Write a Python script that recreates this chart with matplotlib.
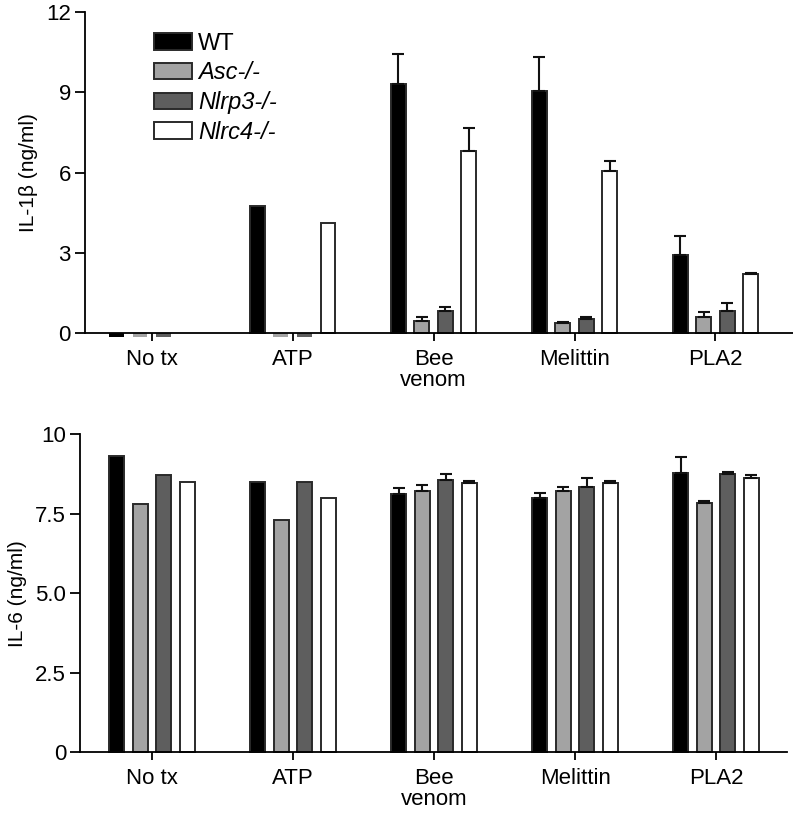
import numpy as np
import matplotlib
matplotlib.use("Agg")
from matplotlib import pyplot as plt

plt.rcParams["font.family"] = ["Liberation Sans", "DejaVu Sans"]

groups = ["No tx", "ATP", "Bee\nvenom", "Melittin", "PLA2"]
genotypes = ["WT", "Asc-/-", "Nlrp3-/-", "Nlrc4-/-"]
colors = ["#000000", "#a3a3a3", "#5e5e5e", "#ffffff"]

# IL-1b (ng/ml), rows = genotype, cols = treatment
il1b = [
    [-0.12, 4.76, 9.30, 9.06, 2.92],
    [-0.12, -0.12, 0.46, 0.37, 0.60],
    [-0.12, -0.12, 0.83, 0.52, 0.85],
    [-0.02, 4.14, 6.83, 6.08, 2.23],
]
il1b_err = [
    [0, 0, 1.12, 1.28, 0.73],
    [0, 0, 0.14, 0.05, 0.20],
    [0, 0, 0.17, 0.10, 0.27],
    [0, 0, 0.86, 0.35, 0.02],
]

# IL-6 (ng/ml)
il6 = [
    [9.32, 8.51, 8.11, 8.01, 8.77],
    [7.80, 7.31, 8.21, 8.21, 7.84],
    [8.71, 8.51, 8.57, 8.34, 8.75],
    [8.51, 8.01, 8.48, 8.48, 8.62],
]
il6_err = [
    [0, 0, 0.20, 0.14, 0.53],
    [0, 0, 0.20, 0.15, 0.07],
    [0, 0, 0.17, 0.28, 0.06],
    [0, 0, 0.05, 0.05, 0.09],
]

fig = plt.figure(figsize=(7.93, 8.13), dpi=100)
ax1 = fig.add_axes([0.107, 0.590, 0.893, 0.395])
ax2 = fig.add_axes([0.101, 0.0747, 0.891, 0.391])

x = np.arange(len(groups))
width = 0.106
offsets = np.array([-1.5, -0.5, 0.5, 1.5]) * 0.167


def draw(ax, vals, errs):
    for i in range(4):
        v = np.array(vals[i])
        e = np.array(errs[i])
        lw = np.where(np.abs(v) < 0.2, 0, 1.4)
        ax.bar(x + offsets[i], v, width, color=colors[i], edgecolor="#2a2a2a",
               linewidth=lw, label=genotypes[i], zorder=2, clip_on=False)
        m = e > 0
        ax.errorbar(x[m] + offsets[i], v[m], yerr=[np.zeros(m.sum()), e[m]],
                    fmt="none", ecolor="#111111", elinewidth=1.5, capsize=4,
                    capthick=1.5, zorder=3)
    for s in ["top", "right"]:
        ax.spines[s].set_visible(False)
    for s in ["left", "bottom"]:
        ax.spines[s].set_linewidth(1.3)
    ax.set_xticks(x)
    ax.set_xticklabels(groups, fontsize=16, linespacing=1.05)
    ax.tick_params(axis="both", direction="out", width=1.3, labelsize=16)
    ax.tick_params(axis="x", length=6, pad=5)
    ax.tick_params(axis="y", length=7, pad=3)


draw(ax1, il1b, il1b_err)
ax1.set_xlim(-0.475, 4.55)
ax1.set_ylim(0, 12)
ax1.set_yticks([0, 3, 6, 9, 12])
ax1.set_ylabel("IL-1β (ng/ml)", fontsize=15, labelpad=6)

leg = ax1.legend(loc="upper left", bbox_to_anchor=(0.085, 0.965), frameon=False,
                 fontsize=17, handlelength=1.6, handleheight=0.7,
                 labelspacing=0.28, handletextpad=0.25, borderaxespad=0)
for h in leg.legend_handles:
    h.set_linewidth(1.4)
for t in leg.get_texts()[1:]:
    t.set_fontstyle("italic")

draw(ax2, il6, il6_err)
ax2.set_xlim(-0.51, 4.5)
ax2.set_ylim(0, 10)
ax2.set_yticks([0, 2.5, 5, 7.5, 10])
ax2.set_yticklabels(["0", "2.5", "5.0", "7.5", "10"])
ax2.set_ylabel("IL-6 (ng/ml)", fontsize=15, labelpad=6)

fig.savefig("out.png", dpi=100)
